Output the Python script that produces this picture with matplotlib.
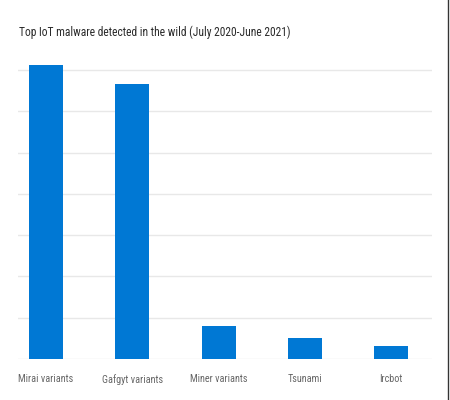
import matplotlib.pyplot as plt
from matplotlib.lines import Line2D

plt.rcParams['font.family'] = ['Roboto Condensed', 'Open Sans Condensed', 'Liberation Sans', 'DejaVu Sans']
plt.rcParams['font.stretch'] = 'condensed'

categories = ['Mirai variants', 'Gafgyt variants', 'Miner variants', 'Tsunami', 'Ircbot']
values = [7.12, 6.66, 0.80, 0.51, 0.32]
yticks = [0, 1, 2, 3, 4, 5, 6, 7]

fig = plt.figure(figsize=(4.5, 4), dpi=100)
ax = fig.add_axes([0.04, 0.1025, 0.92, 0.774])

ax.bar(range(len(categories)), values, width=0.394, color='#0078D4', zorder=3)

ax.set_xlim(-0.325, 4.475)
ax.set_ylim(0, 7.5)
ax.set_yticks(yticks)
ax.set_yticklabels([])
ax.set_xticks(range(len(categories)))
ax.set_xticklabels(categories, fontsize=7.3, color='#666666')
ax.tick_params(axis='both', length=0)
ax.tick_params(axis='x', pad=11)
ax.grid(axis='y', color='#e8e8e8', linewidth=1, zorder=0)
for s in ax.spines.values():
    s.set_visible(False)

fig.text(0.042, 0.92, 'Top IoT malware detected in the wild (July 2020-June 2021)',
         fontsize=8.3, color='#2b2b2b', va='center', ha='left')

# thin dark frame line at the right edge
fig.add_artist(Line2D([0.995, 0.995], [0, 1], transform=fig.transFigure,
                      color='#333333', linewidth=1))

fig.savefig('out.png', dpi=100)
